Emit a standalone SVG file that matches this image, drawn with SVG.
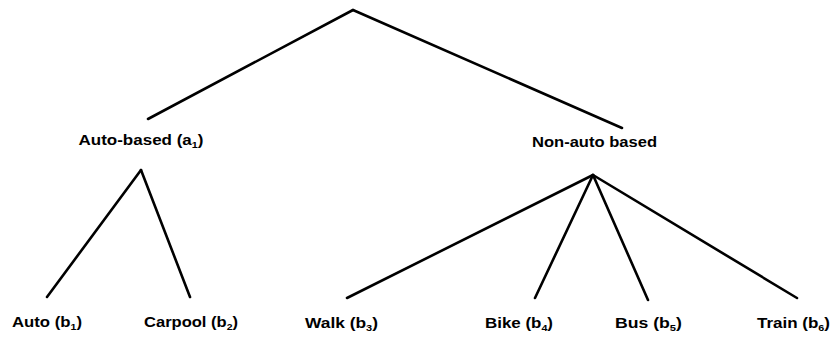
<svg xmlns="http://www.w3.org/2000/svg" width="832" height="339" viewBox="0 0 832 339">
<style>
.e{stroke:#000;stroke-width:2.6;fill:none;stroke-linecap:round}
.t{font-family:"Liberation Sans",Arial,sans-serif;font-size:15px;font-weight:bold;fill:#000;text-anchor:middle}
.s{font-size:9.5px}
</style>
<rect width="832" height="339" fill="#fff"/>
<g id="connectors">
<line class="e" x1="353" y1="10" x2="148" y2="119"/>
<line class="e" x1="353" y1="10" x2="622" y2="128"/>
<line class="e" x1="141" y1="170" x2="47" y2="297"/>
<line class="e" x1="141" y1="170" x2="190" y2="297"/>
<line class="e" x1="593" y1="175" x2="347" y2="298"/>
<line class="e" x1="593" y1="175" x2="535" y2="298"/>
<line class="e" x1="593" y1="175" x2="648" y2="300"/>
<line class="e" x1="593" y1="175" x2="797" y2="298"/>
</g>
<g id="auto-based"><text class="t" x="141" y="145" textLength="125" lengthAdjust="spacingAndGlyphs">Auto-based (a<tspan class="s" dy="3">1</tspan><tspan dy="-3">)</tspan></text></g>
<g id="non-auto"><text class="t" x="594.5" y="147" textLength="125" lengthAdjust="spacingAndGlyphs">Non-auto based</text></g>
<g id="auto"><text class="t" x="47" y="327" textLength="70" lengthAdjust="spacingAndGlyphs">Auto (b<tspan class="s" dy="3">1</tspan><tspan dy="-3">)</tspan></text></g>
<g id="carpool"><text class="t" x="191" y="327" textLength="94" lengthAdjust="spacingAndGlyphs">Carpool (b<tspan class="s" dy="3">2</tspan><tspan dy="-3">)</tspan></text></g>
<g id="walk"><text class="t" x="341.5" y="328" textLength="73" lengthAdjust="spacingAndGlyphs">Walk (b<tspan class="s" dy="3">3</tspan><tspan dy="-3">)</tspan></text></g>
<g id="bike"><text class="t" x="519" y="328" textLength="68" lengthAdjust="spacingAndGlyphs">Bike (b<tspan class="s" dy="3">4</tspan><tspan dy="-3">)</tspan></text></g>
<g id="bus"><text class="t" x="648.5" y="328" textLength="67" lengthAdjust="spacingAndGlyphs">Bus (b<tspan class="s" dy="3">5</tspan><tspan dy="-3">)</tspan></text></g>
<g id="train"><text class="t" x="793.5" y="328" textLength="73" lengthAdjust="spacingAndGlyphs">Train (b<tspan class="s" dy="3">6</tspan><tspan dy="-3">)</tspan></text></g>
</svg>
